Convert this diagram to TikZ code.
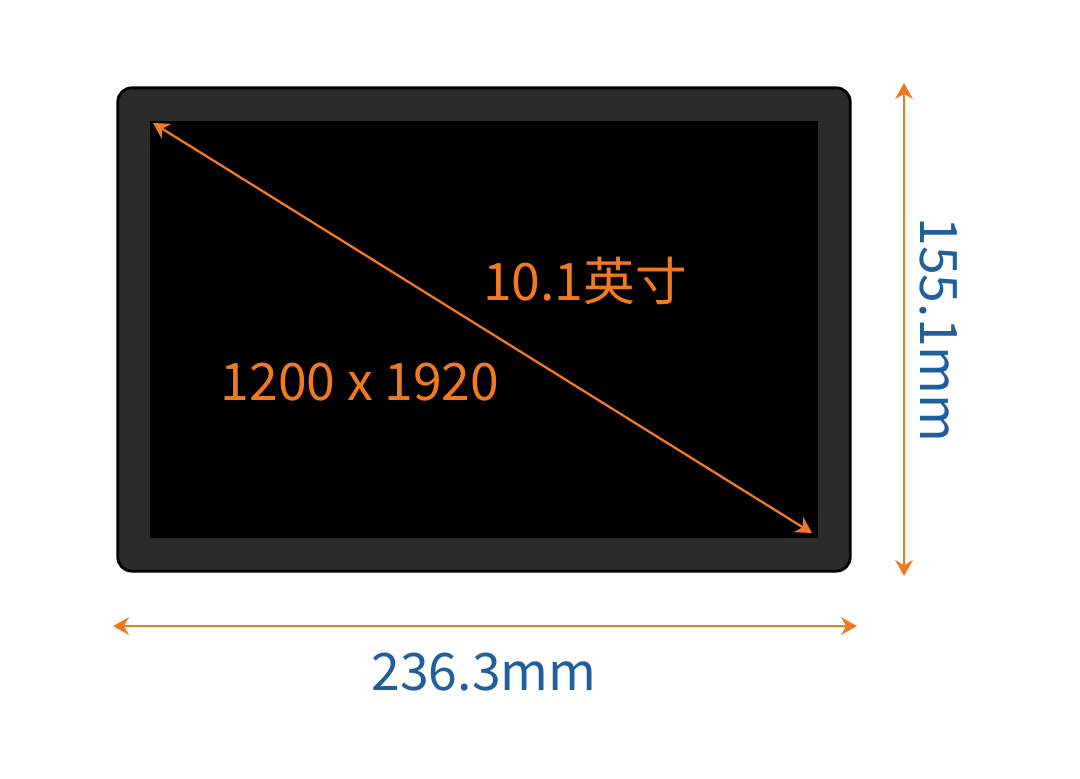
\documentclass[tikz,border=0pt]{standalone}
\usepackage{fontspec}
\setmainfont{Noto Sans CJK SC}
\usetikzlibrary{arrows.meta,positioning}
\definecolor{dimorange}{HTML}{F07A22}
\definecolor{dimblue}{HTML}{1F5F9E}
\definecolor{bezelgray}{HTML}{2B2B2B}

\begin{document}
\begin{tikzpicture}[x=0.01cm, y=-0.01cm,
    dimarrow/.style={draw=dimorange, line width=0.8pt, {Stealth[length=4.5pt,width=5pt,inset=1.4pt]}-{Stealth[length=4.5pt,width=5pt,inset=1.4pt]}},
    orangetext/.style={text=dimorange, font=\fontsize{14.7}{18}\selectfont, inner sep=0pt},
    bluetext/.style={text=dimblue, font=\fontsize{14.7}{18}\selectfont, inner sep=0pt}]
    \useasboundingbox[fill=white] (0,0) rectangle (1080,778);

    % tablet body and screen
    \node[draw=black, line width=0.8pt, fill=bezelgray, rounded corners=0.14cm,
          minimum width=7.32cm, minimum height=4.83cm, inner sep=0pt] (bezel) at (484,329.5) {};
    \node[fill=black, minimum width=6.68cm, minimum height=4.17cm, inner sep=0pt] (screen) at (484,329.5) {};

    % diagonal
    \coordinate (diagA) at (153,123);
    \coordinate (diagB) at (812,533);
    \draw[dimarrow, line width=0.65pt] (diagA) -- (diagB);

    \node[orangetext] (inch) at (585,281) {10.1英寸};
    \node[orangetext] (res) at (360,382) {1200 x 1920};

    % width
    \coordinate (wleft) at (113,626);
    \coordinate (wright) at (857,626);
    \draw[dimarrow] (wleft) -- (wright);
    \node[bluetext] (width) at (484,672) {236.3mm};

    % height
    \coordinate (htop) at (904,83);
    \coordinate (hbot) at (904,576);
    \draw[dimarrow] (htop) -- (hbot);
    \node[bluetext, rotate=-90] (height) at (939,330) {155.1mm};
\end{tikzpicture}
\end{document}
